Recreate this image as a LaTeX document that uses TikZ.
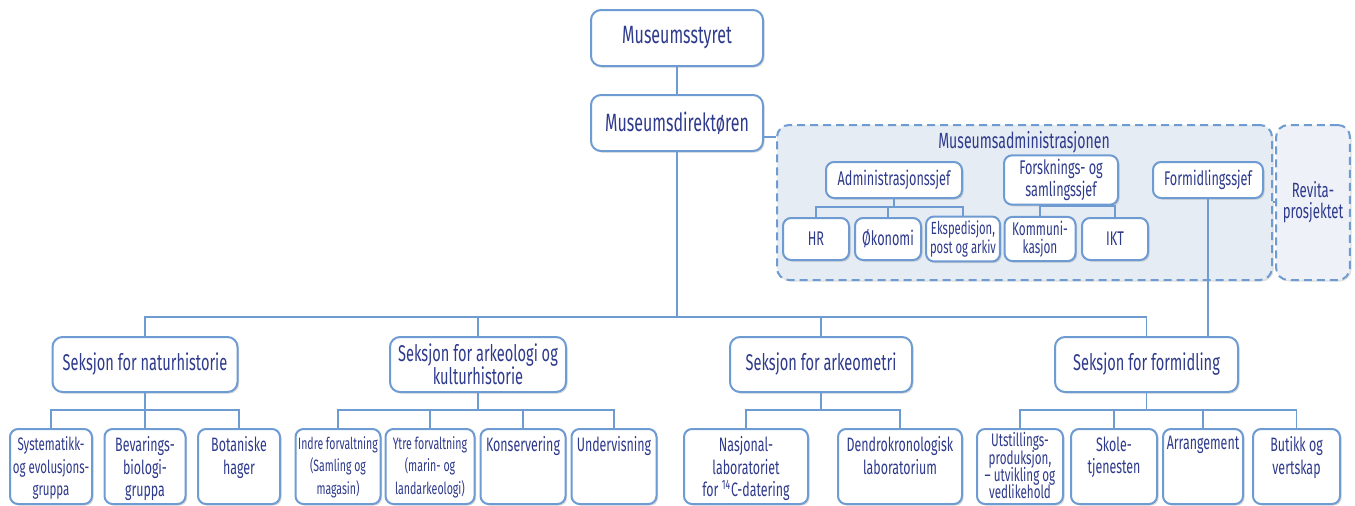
\documentclass[tikz,border=0pt]{standalone}
\usepackage{fontspec}
\setmainfont{Fira Sans}[FakeStretch=0.64]
\usetikzlibrary{positioning, shadows}
\definecolor{tekst}{HTML}{2E3A8C}
\definecolor{kant}{HTML}{6E9BD2}
\definecolor{adminbg}{HTML}{E6ECF4}
\definecolor{revitabg}{HTML}{EEF2F8}
\newcommand{\toppen}[3][30pt]{\parbox[t][#1][t]{#2}{\lineskiplimit=-10pt\centering #3}}

\begin{document}
\begin{tikzpicture}[
    x=0.5pt, y=-0.5pt,
    boks/.style = {rectangle, rounded corners=5pt, draw=kant, line width=1pt, fill=white,
      text=tekst, align=center, inner sep=2pt,
      drop shadow={shadow xshift=0.8pt, shadow yshift=-0.8pt, opacity=0.25, fill=black!60}},
    hoved/.style = {boks, minimum width=86pt, minimum height=28pt, font=\fontsize{12.5}{13.5}\selectfont},
    seksjon/.style = {boks, minimum height=27.5pt, font=\fontsize{11.4}{11.5}\selectfont},
    leder/.style = {boks, rounded corners=4pt, minimum height=18pt, font=\fontsize{9.9}{8}\selectfont},
    enhet/.style = {boks, rounded corners=4pt, minimum height=21pt, font=\fontsize{9.9}{9}\selectfont},
    gruppe/.style = {boks, rounded corners=4pt, anchor=north, inner ysep=3pt, inner xsep=0.5pt,
      minimum height=37.5pt, font=\fontsize{9.7}{11.25}\selectfont},
    ramme/.style = {rectangle, rounded corners=6pt, draw=kant, line width=1pt,
      dash pattern=on 4pt off 2.5pt, text=tekst,
      drop shadow={shadow xshift=0.8pt, shadow yshift=-0.8pt, opacity=0.2, fill=black!60}},
    linje/.style = {draw=kant, line width=0.8pt}
    ]

  \useasboundingbox (0,0) rectangle (1355,505);

  % ledelse
  \node[hoved] (styret) at (677,38) {Museumsstyret};
  \node[hoved] (direktor) [below=13.5pt of styret] {Museumsdirektøren};

  % administrasjonen
  \node[ramme, fill=adminbg, minimum width=247.5pt, minimum height=77.5pt] (admin) at (1024.5,202.5) {};
  \node[ramme, fill=revitabg, minimum width=34pt, minimum height=77.5pt, align=center,
    font=\fontsize{10.3}{10.5}\selectfont] (revita) at (1313,202.5) {Revita-\\prosjektet};
  \node[text=tekst, font=\fontsize{11}{12}\selectfont] (admtittel) at (1024,142) {Museumsadministrasjonen};

  \node[leder, minimum width=68pt] (adm) at (894,180) {Administrasjonssjef};
  \node[leder, minimum width=57pt] (forsk) at (1061,180) {Forsknings- og\\samlingssjef};
  \node[leder, minimum width=55pt] (formsjef) at (1208,180) {Formidlingssjef};

  \node[enhet, minimum width=33pt] (hr) at (816,239) {HR};
  \node[enhet, minimum width=33pt] (okonomi) at (888,239) {Økonomi};
  \node[enhet, minimum width=36pt, font=\fontsize{8.8}{8}\selectfont] (eksp) at (963,239) {Ekspedisjon,\\post og arkiv};
  \node[enhet, minimum width=35.5pt, font=\fontsize{9.2}{9}\selectfont] (komm) at (1040,239) {Kommuni-\\kasjon};
  \node[enhet, minimum width=33pt] (ikt) at (1115,239) {IKT};

  % seksjoner
  \node[seksjon, minimum width=92.5pt] (natur) at (145,364.5) {Seksjon for naturhistorie};
  \node[seksjon, minimum width=88pt] (ark) at (478,364.5) {Seksjon for arkeologi og\\kulturhistorie};
  \node[seksjon, minimum width=91pt] (arkeometri) at (821,364.5) {Seksjon for arkeometri};
  \node[seksjon, minimum width=91.5pt] (formidling) at (1146.5,364.5) {Seksjon for formidling};

  % grupper
  \node[gruppe, minimum width=41pt, font=\fontsize{9}{11.25}\selectfont] (sys) at (51,428) {\toppen{40pt}{Systematikk-\\og evolusjons-\\gruppa}};
  \node[gruppe, minimum width=40.5pt] (bev) at (145,428) {\toppen{39.5pt}{Bevarings-\\biologi-\\gruppa}};
  \node[gruppe, minimum width=41pt] (bot) at (239,428) {\toppen{40pt}{Botaniske\\hager}};

  \node[gruppe, minimum width=42.5pt, font=\fontsize{8.2}{11.25}\selectfont] (indre) at (338,428) {\toppen{41.5pt}{Indre forvaltning\\(Samling og\\magasin)}};
  \node[gruppe, minimum width=44.5pt, font=\fontsize{8.3}{11.25}\selectfont] (ytre) at (430,428) {\toppen{43.5pt}{Ytre forvaltning\\(marin- og\\landarkeologi)}};
  \node[gruppe, minimum width=42.5pt] (kons) at (523,428) {\toppen{41.5pt}{Konservering}};
  \node[gruppe, minimum width=42.5pt] (underv) at (614,428) {\toppen{41.5pt}{Undervisning}};

  \node[gruppe, minimum width=62pt] (nasj) at (746,428) {\toppen{61pt}{Nasjonal-\\laboratoriet\\for \textsuperscript{14}C-datering}};
  \node[gruppe, minimum width=62pt] (dendro) at (900,428) {\toppen{61pt}{Dendrokronologisk\\laboratorium}};

  \node[gruppe, minimum width=43pt, inner ysep=1pt, font=\fontsize{9.1}{8.7}\selectfont] (utst) at (1020,428) {\toppen[34pt]{42pt}{Utstillings-\\produksjon,\\– utvikling og\\vedlikehold}};
  \node[gruppe, minimum width=43pt] (skole) at (1114,428) {\toppen{42pt}{Skole-\\tjenesten}};
  \node[gruppe, minimum width=40pt] (arr) at (1203,428) {\toppen{39pt}{Arrangement}};
  \node[gruppe, minimum width=43.5pt] (butikk) at (1296.5,428) {\toppen{42.5pt}{Butikk og\\vertskap}};

  % linjer
  \draw[linje]
  (styret) -- (direktor)
  (direktor.east |- 0,137) -- (admin.west |- 0,137)
  (admin.east |- 0,202) -- (revita.west |- 0,202)
  (natur.north) -- ++(0,-19) coordinate (buss) -| (formidling.north)
  (direktor.south) -- (direktor.south |- buss)
  (ark.north) -- (ark.north |- buss)
  (arkeometri.north) -- (arkeometri.north |- buss)
  (formsjef.south) -- (formsjef.south |- formidling.north)

  (hr.north) -- ++(0,-10) coordinate (admbuss) -| (eksp.north)
  (okonomi.north) -- (okonomi.north |- admbuss)
  (adm.south) -- (adm.south |- admbuss)
  (komm.north) -- ++(0,-10) -| (ikt.north)
  (forsk.south) -- (forsk.south |- admbuss)

  (sys.north) -- ++(0,-18) coordinate (nbuss) -| (bot.north)
  (natur.south) -- (bev.north)
  (indre.north) -- ++(0,-18) -| (underv.north)
  (ytre.north) -- (ytre.north |- nbuss)
  (kons.north) -- (kons.north |- nbuss)
  (ark.south) -- (ark.south |- nbuss)
  (nasj.north) -- ++(0,-18) -| (dendro.north)
  (arkeometri.south) -- (arkeometri.south |- nbuss)
  (utst.north) -- ++(0,-18) -| (butikk.north)
  (skole.north) -- (skole.north |- nbuss)
  (arr.north) -- (arr.north |- nbuss)
  (formidling.south) -- (formidling.south |- nbuss);

\end{tikzpicture}
\end{document}
